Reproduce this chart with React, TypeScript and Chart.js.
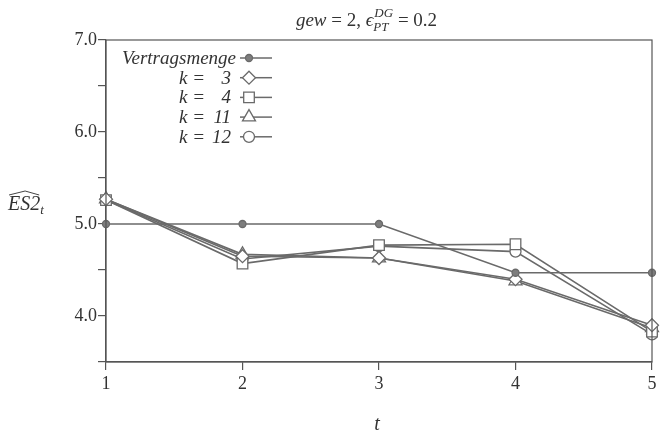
import { useEffect, useRef } from "react";
import { Chart, registerables } from "chart.js";

Chart.register(...registerables);

// Periods t and the estimated ES2 values per series
const periods = ["1", "2", "3", "4", "5"];
const vertragsmenge = [5.0, 5.0, 5.0, 4.47, 4.47];
const k3 = [5.27, 4.65, 4.63, 4.4, 3.9];
const k4 = [5.26, 4.57, 4.77, 4.78, 3.83];
const k11 = [5.27, 4.67, 4.63, 4.38, 3.87];
const k12 = [5.26, 4.62, 4.76, 4.7, 3.8];
const labeledTicks = [4, 5, 6, 7];

const SERIF = '"Liberation Serif", "DejaVu Serif", serif';
const LINE = "#6a6a6a";
const AXIS = "#555555";

type Run = { text: string; font: string; dy?: number };

function drawRuns(ctx: CanvasRenderingContext2D, runs: Run[], x: number, y: number) {
  let cx = x;
  runs.forEach((r) => {
    ctx.font = r.font;
    ctx.fillText(r.text, cx, y + (r.dy || 0));
    cx += ctx.measureText(r.text).width;
  });
}

function drawMarker(ctx: CanvasRenderingContext2D, style: string, x: number, y: number, r: number, filled: boolean) {
  ctx.save();
  ctx.beginPath();
  if (style === "circle") {
    ctx.arc(x, y, r, 0, Math.PI * 2);
  } else if (style === "rect") {
    const s = Math.SQRT1_2 * r;
    ctx.rect(x - s, y - s, 2 * s, 2 * s);
  } else if (style === "rectRot") {
    ctx.moveTo(x, y - r);
    ctx.lineTo(x + r, y);
    ctx.lineTo(x, y + r);
    ctx.lineTo(x - r, y);
    ctx.closePath();
  } else if (style === "triangle") {
    ctx.moveTo(x, y - r);
    ctx.lineTo(x + r * 0.866, y + r * 0.5);
    ctx.lineTo(x - r * 0.866, y + r * 0.5);
    ctx.closePath();
  }
  ctx.fillStyle = filled ? "#7d7d7d" : "#ffffff";
  ctx.fill();
  ctx.lineWidth = 1.3;
  ctx.strokeStyle = LINE;
  ctx.stroke();
  ctx.restore();
}

const legendRows = [
  { label: "Vertragsmenge", num: "", style: "circle", r: 3.5, filled: true },
  { label: "k =", num: "3", style: "rectRot", r: 6.5, filled: false },
  { label: "k =", num: "4", style: "rect", r: 7.5, filled: false },
  { label: "k =", num: "11", style: "triangle", r: 7.5, filled: false },
  { label: "k =", num: "12", style: "circle", r: 5.5, filled: false },
];

const decorPlugin = {
  id: "decor",
  afterDraw(chart: Chart) {
    const { ctx, chartArea } = chart;
    const { left, right, top, bottom } = chartArea;
    ctx.save();

    // frame
    ctx.strokeStyle = AXIS;
    ctx.lineWidth = 1.2;
    ctx.strokeRect(left, top, right - left, bottom - top);

    // legend
    ctx.fillStyle = "#333333";
    ctx.textBaseline = "alphabetic";
    const italic = `italic 19px ${SERIF}`;
    legendRows.forEach((row, i) => {
      const y = top + 18 + i * 19.7;
      ctx.font = italic;
      if (row.num === "") {
        ctx.textAlign = "right";
        ctx.fillText(row.label, left + 130, y + 6);
      } else {
        ctx.textAlign = "left";
        ctx.fillText(row.label, left + 73, y + 6);
        ctx.textAlign = "right";
        ctx.fillText(row.num, left + 125, y + 6);
      }
      ctx.beginPath();
      ctx.moveTo(left + 134, y);
      ctx.lineTo(left + 166, y);
      ctx.strokeStyle = LINE;
      ctx.lineWidth = 1.5;
      ctx.stroke();
      drawMarker(ctx, row.style, left + 143, y, row.r, row.filled);
    });

    // title: gew = 2, eps^{DG}_{PT} = 0.2
    ctx.fillStyle = "#333333";
    ctx.textAlign = "left";
    const it = `italic 19px ${SERIF}`;
    const up = `19px ${SERIF}`;
    const sm = `italic 13px ${SERIF}`;
    const runs1: Run[] = [
      { text: "gew", font: it },
      { text: " = 2, ", font: up },
      { text: "\u03f5", font: it },
    ];
    let w1 = 0;
    runs1.forEach((r) => {
      ctx.font = r.font;
      w1 += ctx.measureText(r.text).width;
    });
    ctx.font = sm;
    const wsc = Math.max(ctx.measureText("DG").width, ctx.measureText("PT").width);
    ctx.font = up;
    const w3 = ctx.measureText(" = 0.2").width;
    const tx = 366 - (w1 + wsc + w3) / 2;
    drawRuns(ctx, runs1, tx, 26);
    ctx.font = sm;
    ctx.fillText("DG", tx + w1 + 1, 17);
    ctx.fillText("PT", tx + w1, 31);
    ctx.font = up;
    ctx.fillText(" = 0.2", tx + w1 + wsc + 1, 26);

    // y-axis title with hat
    ctx.font = `italic 20px ${SERIF}`;
    ctx.fillText("ES2", 8, 210);
    const wes = ctx.measureText("ES2").width;
    ctx.font = `italic 13px ${SERIF}`;
    ctx.fillText("t", 8 + wes, 214);
    ctx.beginPath();
    ctx.moveTo(9, 195);
    ctx.lineTo(8 + wes / 2 + 1, 191);
    ctx.lineTo(8 + wes - 1, 195);
    ctx.strokeStyle = "#444444";
    ctx.lineWidth = 1;
    ctx.stroke();

    // x-axis title
    ctx.font = `italic 20px ${SERIF}`;
    ctx.textAlign = "center";
    ctx.fillText("t", 377, 430);

    ctx.restore();
  },
};

export default function App() {
  const canvasRef = useRef<HTMLCanvasElement | null>(null);

  useEffect(() => {
    const canvas = canvasRef.current;
    if (!canvas) return;
    const seriesStyle = (data: number[], style: string, r: number, filled: boolean, label: string) => ({
      label,
      data,
      borderColor: LINE,
      borderWidth: 1.6,
      backgroundColor: filled ? "#7d7d7d" : "#ffffff",
      pointStyle: style,
      pointRadius: r,
      pointBorderWidth: 1.3,
      pointBorderColor: LINE,
      pointBackgroundColor: filled ? "#7d7d7d" : "#ffffff",
      tension: 0,
      fill: false,
    });

    const chart = new Chart(canvas, {
      type: "line",
      data: {
        labels: periods,
        datasets: [
          seriesStyle(vertragsmenge, "circle", 3.5, true, "Vertragsmenge"),
          seriesStyle(k3, "rectRot", 6.5, false, "k = 3"),
          seriesStyle(k4, "rect", 7.5, false, "k = 4"),
          seriesStyle(k11, "triangle", 7.5, false, "k = 11"),
          seriesStyle(k12, "circle", 5.5, false, "k = 12"),
        ],
      },
      options: {
        animation: false,
        responsive: false,
        maintainAspectRatio: false,
        layout: { padding: { top: 40, right: 10, left: 0, bottom: 0 } },
        plugins: {
          legend: { display: false },
          tooltip: { enabled: false },
          title: { display: false },
        },
        scales: {
          x: {
            type: "category",
            offset: false,
            grid: { drawOnChartArea: false, drawTicks: true, tickLength: 8, color: AXIS, lineWidth: 1.2 },
            border: { display: true, color: AXIS, width: 1.2 },
            ticks: {
              color: "#333333",
              font: { family: SERIF, size: 18 },
              padding: 3,
              maxRotation: 0,
            },
            afterFit: (scale: any) => {
              scale.height = 72;
            },
          },
          y: {
            min: 3.5,
            max: 7,
            grid: { drawOnChartArea: false, drawTicks: true, tickLength: 8, color: AXIS, lineWidth: 1.2 },
            border: { display: true, color: AXIS, width: 1.2 },
            ticks: {
              stepSize: 0.5,
              color: "#333333",
              font: { family: SERIF, size: 18 },
              padding: 1,
              callback: (v: any) => (labeledTicks.includes(Number(v)) ? Number(v).toFixed(1) : ""),
            },
            afterFit: (scale: any) => {
              scale.width = 106;
            },
          },
        },
      },
      plugins: [decorPlugin],
    });
    return () => chart.destroy();
  }, []);

  return (
    <div style={{ position: "fixed", left: 0, top: 0, width: 662, height: 434, background: "#ffffff" }}>
      <canvas ref={canvasRef} width={662} height={434} style={{ display: "block", width: 662, height: 434 }} />
    </div>
  );
}
